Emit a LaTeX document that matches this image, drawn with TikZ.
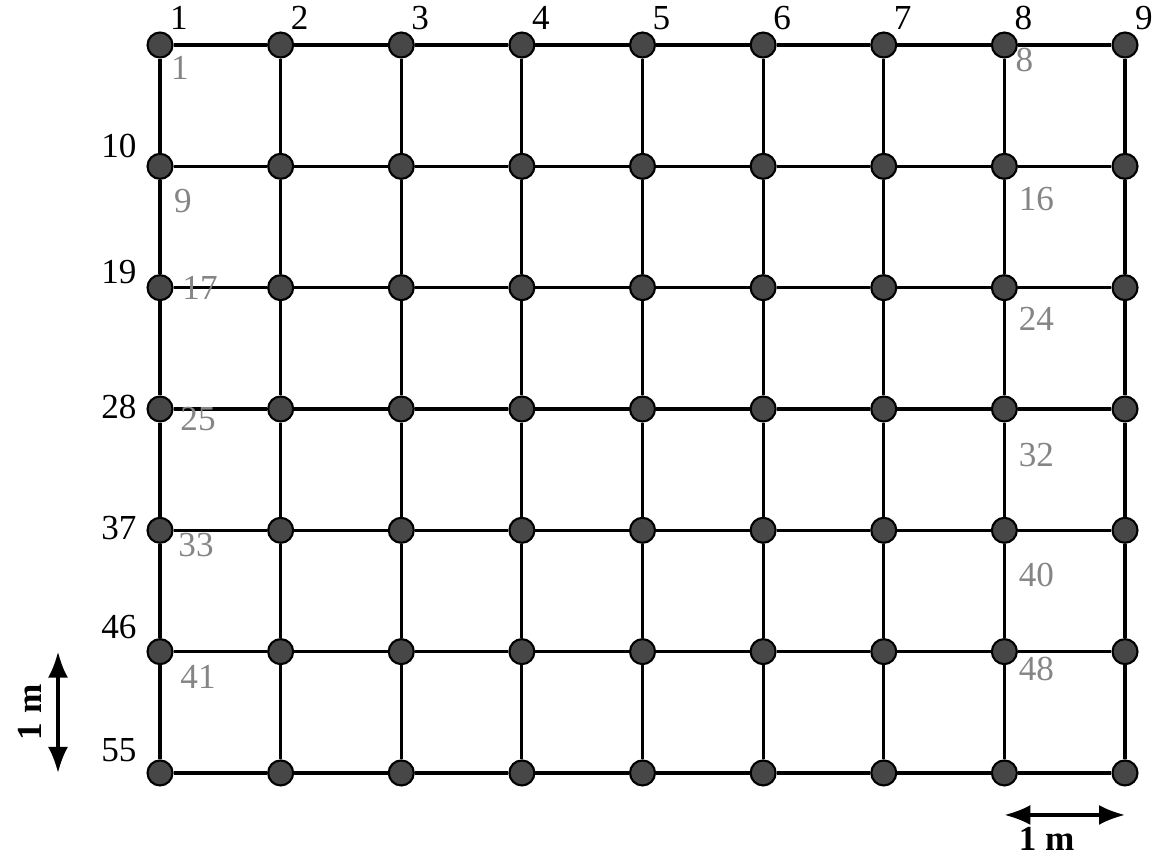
\documentclass[tikz,border=0pt]{standalone}
\usepackage{fontspec}
\setmainfont{Liberation Serif}
\usetikzlibrary{arrows.meta, calc}

\begin{document}
\begin{tikzpicture}[x=1.206cm,y=-1.213cm,line width=0.9pt,
  font=\fontsize{10}{12}\selectfont]
  \tikzstyle{pt}=[circle,draw=black,fill=black!72,inner sep=0pt,minimum size=0.25cm,line width=0.6pt]
  \tikzstyle{toplbl}=[inner sep=0pt,text=black]
  \tikzstyle{cell}=[inner sep=0pt,text=black!48]
  \tikzstyle{scalebar}=[{Latex[length=2.6mm,width=2mm]}-{Latex[length=2.6mm,width=2mm]},line width=0.9pt]

  \useasboundingbox (-1.60cm,0.45cm) rectangle (10.058cm,-8.138cm);

  % grid points
  \foreach \r in {0,...,6}
    \foreach \c in {0,...,8}
      \node[pt] (p-\r-\c) at (\c,\r) {};

  % grid lines
  \foreach \r in {0,...,6}
    \foreach \c in {0,...,7} {
      \pgfmathtruncatemacro{\cn}{\c+1}
      \draw[line width=0.9pt] (p-\r-\c) -- (p-\r-\cn);
    }
  \foreach \c in {0,...,8}
    \foreach \r in {0,...,5} {
      \pgfmathtruncatemacro{\rn}{\r+1}
      \draw[line width=0.9pt] (p-\r-\c) -- (p-\rn-\c);
    }

  % point numbers
  \foreach \c [evaluate=\c as \n using int(\c+1)] in {0,...,8}
    \node[toplbl] at ([shift={(0.19cm,0.27cm)}]p-0-\c) {\n};
  \foreach \r/\dy in {1/0.20,2/0.16,3/0.02,4/0.02,5/0.25,6/0.23}
    \pgfmathtruncatemacro{\n}{\r*9+1}
    \node[toplbl,anchor=east] at ([shift={(-0.22cm,\dy cm)}]p-\r-0) {\n};

  % cell numbers
  \foreach \r/\dx/\dy in {0/0.20/-0.23,1/0.23/-0.35,2/0.40/0,3/0.38/-0.10,4/0.36/-0.15,5/0.38/-0.25}
    \pgfmathtruncatemacro{\n}{\r*8+1}
    \node[cell] at ([shift={(\dx cm,\dy cm)}]p-\r-0) {\n};
  \foreach \r/\dx/\dy in {0/0.20/-0.15,1/0.32/-0.33,2/0.32/-0.31,3/0.32/-0.46,4/0.32/-0.45,5/0.32/-0.17}
    \pgfmathtruncatemacro{\n}{\r*8+8}
    \node[cell] at ([shift={(\dx cm,\dy cm)}]p-\r-7) {\n};

  % scale bars
  \coordinate (va) at ([xshift=-1.02cm]p-5-0);
  \coordinate (vb) at ([xshift=-1.02cm]p-6-0);
  \draw[scalebar] (va) -- (vb);
  \node[rotate=90,font=\fontsize{10}{12}\selectfont\bfseries] at ([xshift=-0.28cm]$(va)!0.5!(vb)$) {1 m};
  \coordinate (ha) at ([yshift=-0.42cm]p-6-7);
  \coordinate (hb) at ([yshift=-0.42cm]p-6-8);
  \draw[scalebar] (ha) -- (hb);
  \node[font=\fontsize{10}{12}\selectfont\bfseries] at ([shift={(-0.18cm,-0.24cm)}]$(ha)!0.5!(hb)$) {1 m};
\end{tikzpicture}
\end{document}
